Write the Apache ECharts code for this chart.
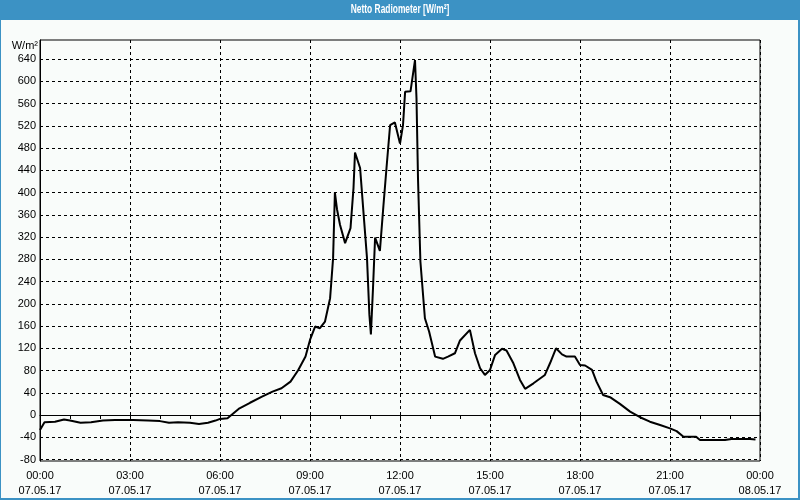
<!DOCTYPE html>
<html><head><meta charset="utf-8">
<script src="https://cdn.jsdelivr.net/npm/echarts@6/dist/echarts.min.js"></script>
<style>html,body{margin:0;padding:0;background:#f9fcfa}#c{width:800px;height:500px}</style>
</head><body><div id="c"></div>
<script>
const titleText = 'Netto Radiometer [W/m²]';
const unitText = 'W/m²';
const yTicks = [-80,-40,0,40,80,120,160,200,240,280,320,360,400,440,480,520,560,600,640];
const xTicksHours = [0,3,6,9,12,15,18,21,24];
const hours = [0,0.15,0.5,0.8,1.0,1.35,1.7,2.1,2.5,3.1,3.6,4.0,4.3,4.6,5.0,5.3,5.6,5.85,6.0,6.25,
  6.65,7.0,7.4,7.75,8.05,8.35,8.6,8.85,9.0,9.17,9.33,9.5,9.67,9.77,9.83,9.9,10.0,10.17,10.35,10.45,
  10.5,10.67,10.78,10.9,10.98,11.03,11.1,11.17,11.33,11.45,11.55,11.67,11.83,12.0,12.1,12.17,12.35,12.5,12.55,12.6,
  12.68,12.83,12.97,13.17,13.43,13.6,13.83,14.0,14.33,14.5,14.67,14.83,15.0,15.17,15.4,15.55,15.78,16.0,16.17,16.45,
  16.83,17.0,17.2,17.4,17.55,17.83,18.0,18.17,18.4,18.55,18.77,19.0,19.33,19.67,20.0,20.33,20.67,21.0,21.22,21.45,
  21.87,22.0,22.83,23.05,23.67,23.85];
const values = [-27,-13,-12,-8,-10,-14,-13,-10,-9,-9,-10,-11,-14,-13,-14,-16,-14,-10,-7,-6,
  12,22,33,42,48,60,80,105,135,159,156,168,210,282,400,370,342,309,336,408,
  472,444,366,282,180,145,228,319,295,378,444,521,526,488,521,581,582,638,569,425,
  276,174,150,105,101,105,111,134,153,111,84,72,81,108,119,116,93,63,47,57,
  72,93,120,109,105,105,90,89,81,60,36,32,20,6,-4,-12,-18,-24,-29,-39,
  -39,-45,-45,-43,-43,-44];

const data = hours.map((h,i)=>[h, values[i]]);
const pad = n => (n<10?'0':'')+n;
const font = "'Liberation Sans', Arial, sans-serif";

const chart = echarts.init(document.getElementById('c'), null, {renderer:'canvas'});
chart.setOption({
  backgroundColor: '#f9fcfa',
  animation: false,
  graphic: [
    {type:'rect', left:0, top:0, shape:{width:800,height:20}, style:{fill:'#3c92c4'}, z:10},
    {type:'rect', left:0, top:0, shape:{width:1,height:500}, style:{fill:'#3c92c4'}, z:10},
    {type:'rect', left:798, top:0, shape:{width:2,height:500}, style:{fill:'#3c92c4'}, z:10},
    {type:'rect', left:0, top:498, shape:{width:800,height:2}, style:{fill:'#3c92c4'}, z:10},
    {type:'text', x:400, y:10, scaleX:0.7, z:11, style:{text:titleText, fill:'#fff', font:"bold 12px 'Liberation Sans', Arial, sans-serif", align:'center', verticalAlign:'middle'}},
    {type:'text', x:38, y:46, z:11, style:{text:unitText, fill:'#000', font:"11px "+font, align:'right', verticalAlign:'middle'}}
  ],
  grid: {left:40, right:40, top:40, bottom:39, show:true, borderColor:'#000', borderWidth:1, backgroundColor:'transparent'},
  xAxis: {
    type:'value', min:0, max:24, interval:3,
    axisLine:{show:true, lineStyle:{color:'#000', width:1}},
    axisTick:{show:true, length:4, lineStyle:{color:'#000'}},
    minorTick:{show:true, splitNumber:3, length:4, lineStyle:{color:'#000'}},
    splitLine:{show:true, lineStyle:{color:'#000', type:[3,3], width:1}},
    axisLabel:{color:'#000', fontSize:11, fontFamily:font, lineHeight:15, margin:7,
      showMinLabel:true, showMaxLabel:true,
      formatter: v => v>=24 ? '00:00\n08.05.17' : pad(v)+':00\n07.05.17'}
  },
  yAxis: {
    type:'value', min:-82.7, max:674.2,
    axisLine:{show:true, lineStyle:{color:'#000', width:1}},
    axisTick:{show:false, customValues: yTicks},
    splitLine:{show:true, lineStyle:{color:'#000', type:[3,3], width:1}},
    axisLabel:{color:'#000', fontSize:11, fontFamily:font, margin:4, customValues: yTicks}
  },
  series: [{
    type:'line', data:data, showSymbol:false, symbol:'none',
    lineStyle:{color:'#000', width:2}, z:5
  }]
});
</script></body></html>
